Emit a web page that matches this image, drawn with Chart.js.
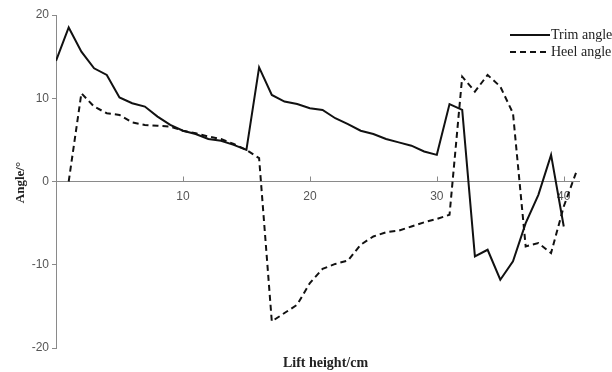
<!DOCTYPE html>
<html>
<head>
<meta charset="utf-8">
<script src="https://cdn.jsdelivr.net/npm/chart.js@4.4.1/dist/chart.umd.min.js"></script>
<style>
  html, body { margin: 0; padding: 0; background: #fff; }
  canvas { display: block; }
</style>
</head>
<body>
<canvas id="angles" width="612" height="372"></canvas>
<script>
// lift height (cm) of each reading
var liftHeight = [0, 1, 2, 3, 4, 5, 6, 7, 8, 9, 10, 11, 12, 13, 14, 15, 16, 17, 18, 19, 20,
	21, 22, 23, 24, 25, 26, 27, 28, 29, 30, 31, 32, 33, 34, 35, 36, 37, 38, 39, 40, 41];

var trimAngle = [14.5, 18.5, 15.6, 13.6, 12.8, 10.1, 9.4, 9.0, 7.8, 6.8, 6.1, 5.7, 5.1, 4.9, 4.4, 3.8,
	13.7, 10.4, 9.6, 9.3, 8.8, 8.6, 7.6, 6.9, 6.1, 5.7, 5.1, 4.7, 4.3, 3.6, 3.2,
	9.3, 8.6, -9.0, -8.2, -11.8, -9.6, -5.0, -1.6, 3.2, -5.4];

var heelAngle = [null, 0, 10.6, 9.0, 8.2, 8.0, 7.1, 6.8, 6.7, 6.6, 6.1, 5.8, 5.4, 5.1, 4.5, 3.8,
	2.8, -16.8, -15.8, -14.8, -12.2, -10.5, -9.9, -9.5, -7.6, -6.6, -6.1, -5.9, -5.4, -4.9, -4.5,
	-4.0, 12.6, 10.8, 12.8, 11.4, 8.2, -7.8, -7.4, -8.6, -3.0, 1.2];

var xTicks = [10, 20, 30, 40];
var seriesNames = ["Trim angle", "Heel angle"];
var xTitle = "Lift height/cm";
var yTitle = "Angle/\u00b0";

var axisColor = "#8a8a8a";
var lineColor = "#111";

function toPoints(values){
	var pts = [];
	for(var i = 0; i < values.length; i++){
		pts.push({x: liftHeight[i], y: values[i]});
	}
	return pts;
}

// axis titles, upward x ticks and the legend
var decorations = {
	id: "decorations",
	afterDraw: function(chart){
		var ctx = chart.ctx;
		var area = chart.chartArea;
		var xs = chart.scales.x;
		var y0 = chart.scales.y.getPixelForValue(0);
		ctx.save();

		ctx.strokeStyle = axisColor;
		ctx.lineWidth = 1;
		xTicks.forEach(function(v){
			var px = Math.round(xs.getPixelForValue(v)) + 0.5;
			ctx.beginPath();
			ctx.moveTo(px, y0);
			ctx.lineTo(px, y0 - 5);
			ctx.stroke();
		});

		ctx.fillStyle = "#222";
		ctx.font = "bold 14px 'Liberation Serif'";
		ctx.textAlign = "center";
		ctx.textBaseline = "middle";
		ctx.fillText(xTitle, (area.left + area.right) / 2 + 8, area.bottom + 15);

		ctx.save();
		ctx.translate(21, (area.top + area.bottom) / 2 + 1);
		ctx.rotate(-Math.PI / 2);
		ctx.font = "bold 13px 'Liberation Serif'";
		ctx.fillText(yTitle, 0, 0);
		ctx.restore();

		ctx.font = "14px 'Liberation Serif'";
		ctx.textAlign = "left";
		chart.data.datasets.forEach(function(ds, i){
			var ly = 35 + i * 17;
			ctx.strokeStyle = ds.borderColor;
			ctx.lineWidth = ds.borderWidth;
			ctx.setLineDash(ds.borderDash || []);
			ctx.beginPath();
			ctx.moveTo(510, ly);
			ctx.lineTo(i == 0 ? 550 : 547, ly);
			ctx.stroke();
			ctx.setLineDash([]);
			ctx.fillStyle = "#222";
			ctx.fillText(ds.label, 551, ly);
		});
		ctx.restore();
	}
};

var chart = new Chart(document.getElementById("angles"), {
	type: "line",
	data: {
		datasets: [{
			label: seriesNames[0],
			data: toPoints(trimAngle),
			borderColor: lineColor,
			borderWidth: 2,
			pointRadius: 0,
			tension: 0,
			fill: false
		}, {
			label: seriesNames[1],
			data: toPoints(heelAngle),
			borderColor: lineColor,
			borderWidth: 2,
			borderDash: [6, 4],
			pointRadius: 0,
			tension: 0,
			fill: false
		}]
	},
	options: {
		responsive: false,
		animation: false,
		layout: {
			padding: {left: 0, top: 15, right: 33, bottom: 24}
		},
		plugins: {
			legend: {display: false},
			tooltip: {enabled: false}
		},
		scales: {
			x: {
				type: "linear",
				position: {y: 0},
				min: 0,
				max: 41.2,
				grid: {display: true, drawOnChartArea: false, drawTicks: false},
				border: {display: true, color: axisColor, width: 1},
				ticks: {
					stepSize: 10,
					includeBounds: false,
					padding: 8,
					color: "#555",
					font: {family: "'Liberation Sans'", size: 12},
					maxRotation: 0,
					callback: function(v){ return v === 0 ? "" : v; }
				}
			},
			y: {
				min: -20,
				max: 20,
				afterFit: function(scale){ scale.width = 56; },
				grid: {drawOnChartArea: false, drawTicks: true, tickLength: 4, color: axisColor},
				border: {display: true, color: axisColor, width: 1},
				ticks: {
					stepSize: 10,
					padding: 3,
					color: "#555",
					font: {family: "'Liberation Sans'", size: 12}
				}
			}
		}
	},
	plugins: [decorations]
});
</script>
</body>
</html>
